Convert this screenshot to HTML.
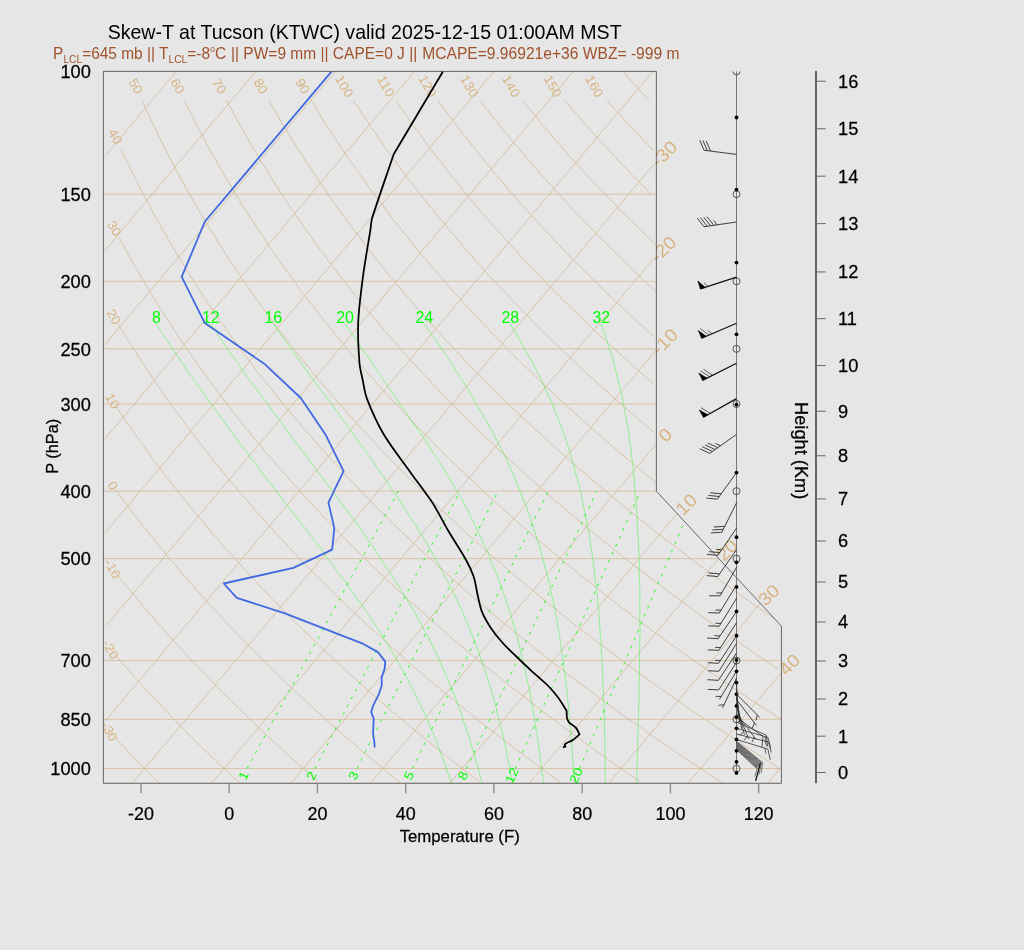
<!DOCTYPE html>
<html><head><meta charset="utf-8"><title>Skew-T</title>
<style>
html,body{margin:0;padding:0;background:#e6e6e6;}
svg{display:block;will-change:transform;font-family:"Liberation Sans",sans-serif;}
</style></head><body>
<svg width="1024" height="950" viewBox="0 0 1024 950">
<defs><clipPath id="fr"><path d="M103.40 783.30 L781.40 783.30 L781.40 626.12 L656.39 491.16 L656.39 71.40 L103.40 71.40 L103.40 783.30 Z"/></clipPath><clipPath id="topclip"><rect x="0" y="71.4" width="1024" height="900"/></clipPath></defs>
<rect width="1024" height="950" fill="#e6e6e6"/>
<g clip-path="url(#fr)">
<path d="M103.40 783.30 L781.40 783.30" fill="none" stroke="#d2b48c" stroke-width="0.7" />
<path d="M103.40 768.53 L781.40 768.53" fill="none" stroke="#d2b48c" stroke-width="0.7" />
<path d="M103.40 719.33 L781.40 719.33" fill="none" stroke="#d2b48c" stroke-width="0.7" />
<path d="M103.40 660.54 L781.40 660.54" fill="none" stroke="#d2b48c" stroke-width="0.7" />
<path d="M103.40 558.68 L718.60 558.68" fill="none" stroke="#d2b48c" stroke-width="0.7" />
<path d="M103.40 491.12 L656.39 491.12" fill="none" stroke="#d2b48c" stroke-width="0.7" />
<path d="M103.40 404.02 L656.39 404.02" fill="none" stroke="#d2b48c" stroke-width="0.7" />
<path d="M103.40 348.83 L656.39 348.83" fill="none" stroke="#d2b48c" stroke-width="0.7" />
<path d="M103.40 281.27 L656.39 281.27" fill="none" stroke="#d2b48c" stroke-width="0.7" />
<path d="M103.40 194.17 L656.39 194.17" fill="none" stroke="#d2b48c" stroke-width="0.7" />
<path d="M103.40 71.42 L656.39 71.42" fill="none" stroke="#d2b48c" stroke-width="0.7" />
<path d="M105.47 155.47 L176.33 71.42" fill="none" stroke="#d2b48c" stroke-width="0.7" />
<path d="M104.31 251.05 L255.75 71.42" fill="none" stroke="#d2b48c" stroke-width="0.7" />
<path d="M104.38 345.17 L335.17 71.42" fill="none" stroke="#d2b48c" stroke-width="0.7" />
<path d="M104.50 439.23 L414.59 71.42" fill="none" stroke="#d2b48c" stroke-width="0.7" />
<path d="M105.06 532.77 L494.01 71.42" fill="none" stroke="#d2b48c" stroke-width="0.7" />
<path d="M105.69 626.23 L573.42 71.42" fill="none" stroke="#d2b48c" stroke-width="0.7" />
<path d="M105.13 721.10 L652.84 71.42" fill="none" stroke="#d2b48c" stroke-width="0.7" />
<path d="M132.11 783.30 L655.67 162.27" fill="none" stroke="#d2b48c" stroke-width="0.7" />
<path d="M211.53 783.30 L654.66 257.66" fill="none" stroke="#d2b48c" stroke-width="0.7" />
<path d="M290.95 783.30 L656.21 350.03" fill="none" stroke="#d2b48c" stroke-width="0.7" />
<path d="M370.37 783.30 L656.67 443.69" fill="none" stroke="#d2b48c" stroke-width="0.7" />
<path d="M449.79 783.30 L677.65 513.02" fill="none" stroke="#d2b48c" stroke-width="0.7" />
<path d="M529.21 783.30 L718.57 558.68" fill="none" stroke="#d2b48c" stroke-width="0.7" />
<path d="M608.63 783.30 L760.11 603.61" fill="none" stroke="#d2b48c" stroke-width="0.7" />
<path d="M688.04 783.30 L780.82 673.25" fill="none" stroke="#d2b48c" stroke-width="0.7" />
<path d="M767.46 783.30 L781.71 766.40" fill="none" stroke="#d2b48c" stroke-width="0.7" />
<path d="M111.01 733.25 L114.14 736.63 L117.25 739.98 L120.34 743.29 L123.42 746.56 L126.49 749.80 L129.54 753.00 L132.57 756.17 L135.59 759.31 L138.60 762.41 L141.59 765.49 L144.57 768.53 L147.53 771.54 L150.48 774.52 L153.42 777.48 L156.34 780.40 L159.25 783.30" fill="none" stroke="#d2b48c" stroke-width="0.7" />
<path d="M112.46 651.77 L116.26 656.19 L120.05 660.54 L123.81 664.84 L127.54 669.07 L131.26 673.25 L134.95 677.37 L138.62 681.43 L142.26 685.44 L145.89 689.40 L149.49 693.31 L153.08 697.16 L156.64 700.97 L160.18 704.73 L163.71 708.45 L167.21 712.12 L170.69 715.74 L174.16 719.33 L177.60 722.87 L181.03 726.37 L184.44 729.83 L187.83 733.25 L191.20 736.63 L194.55 739.98 L197.89 743.29 L201.21 746.56 L204.51 749.80 L207.80 753.00 L211.07 756.17 L214.32 759.31 L217.56 762.41 L220.78 765.49 L223.99 768.53 L227.18 771.54 L230.35 774.52 L233.51 777.48 L236.65 780.40 L239.78 783.30" fill="none" stroke="#d2b48c" stroke-width="0.7" />
<path d="M114.75 571.71 L119.35 577.46 L123.91 583.10 L128.44 588.63 L132.93 594.07 L137.40 599.41 L141.82 604.65 L146.22 609.81 L150.58 614.88 L154.91 619.87 L159.22 624.78 L163.49 629.61 L167.73 634.36 L171.94 639.04 L176.12 643.65 L180.28 648.19 L184.40 652.66 L188.50 657.06 L192.58 661.41 L196.62 665.69 L200.64 669.91 L204.64 674.08 L208.61 678.19 L212.55 682.24 L216.47 686.24 L220.37 690.19 L224.24 694.08 L228.09 697.93 L231.91 701.73 L235.72 705.48 L239.50 709.19 L243.26 712.85 L246.99 716.46 L250.71 720.04 L254.40 723.57 L258.08 727.06 L261.73 730.51 L265.37 733.93 L268.98 737.30 L272.58 740.64 L276.15 743.94 L279.71 747.21 L283.24 750.44 L286.76 753.64 L290.26 756.80 L293.75 759.93 L297.21 763.03 L300.66 766.10 L304.09 769.13 L307.50 772.14 L310.90 775.12 L314.28 778.07 L317.64 780.98" fill="none" stroke="#d2b48c" stroke-width="0.7" />
<path d="M115.47 489.60 L121.01 497.12 L126.50 504.45 L131.93 511.60 L137.32 518.60 L142.65 525.43 L147.94 532.11 L153.18 538.65 L158.37 545.05 L163.52 551.32 L168.62 557.46 L173.68 563.48 L178.70 569.38 L183.67 575.17 L188.61 580.85 L193.50 586.43 L198.36 591.90 L203.17 597.28 L207.95 602.57 L212.69 607.76 L217.40 612.86 L222.07 617.89 L226.71 622.82 L231.31 627.68 L235.87 632.47 L240.41 637.18 L244.91 641.81 L249.38 646.38 L253.82 650.88 L258.23 655.31 L262.61 659.68 L266.96 663.99 L271.28 668.23 L275.57 672.42 L279.83 676.55 L284.06 680.62 L288.27 684.64 L292.45 688.61 L296.61 692.53 L300.74 696.40 L304.84 700.21 L308.92 703.98 L312.97 707.71 L317.00 711.39 L321.00 715.02 L324.99 718.61 L328.94 722.16 L332.88 725.67 L336.79 729.14 L340.68 732.57 L344.55 735.96 L348.40 739.31 L352.22 742.63 L356.03 745.91 L359.81 749.15 L363.57 752.36 L367.32 755.54 L371.04 758.68 L374.74 761.79 L378.43 764.87 L382.09 767.92 L385.74 770.94 L389.37 773.93 L392.98 776.89 L396.57 779.82 L400.14 782.72" fill="none" stroke="#d2b48c" stroke-width="0.7" />
<path d="M115.79 406.03 L122.42 415.90 L128.98 425.45 L135.46 434.71 L141.87 443.69 L148.21 452.42 L154.47 460.90 L160.68 469.15 L166.81 477.18 L172.88 485.00 L178.89 492.63 L184.84 500.07 L190.73 507.33 L196.56 514.42 L202.34 521.35 L208.05 528.12 L213.72 534.75 L219.33 541.23 L224.89 547.58 L230.40 553.79 L235.86 559.89 L241.27 565.86 L246.63 571.71 L251.95 577.46 L257.22 583.10 L262.45 588.63 L267.64 594.07 L272.78 599.41 L277.88 604.65 L282.94 609.81 L287.96 614.88 L292.94 619.87 L297.88 624.78 L302.79 629.61 L307.66 634.36 L312.49 639.04 L317.28 643.65 L322.05 648.19 L326.77 652.66 L331.47 657.06 L336.13 661.41 L340.75 665.69 L345.35 669.91 L349.92 674.08 L354.45 678.19 L358.95 682.24 L363.43 686.24 L367.87 690.19 L372.29 694.08 L376.68 697.93 L381.04 701.73 L385.37 705.48 L389.67 709.19 L393.95 712.85 L398.21 716.46 L402.43 720.04 L406.64 723.57 L410.81 727.06 L414.97 730.51 L419.10 733.93 L423.20 737.30 L427.28 740.64 L431.34 743.94 L435.38 747.21 L439.39 750.44 L443.38 753.64 L447.35 756.80 L451.30 759.93 L455.23 763.03 L459.13 766.10 L463.02 769.13 L466.88 772.14 L470.73 775.12 L474.55 778.07 L478.36 780.98" fill="none" stroke="#d2b48c" stroke-width="0.7" />
<path d="M117.82 323.58 L125.68 336.47 L133.44 348.83 L141.10 360.70 L148.65 372.13 L156.11 383.14 L163.47 393.76 L170.74 404.02 L177.92 413.95 L185.00 423.56 L192.01 432.88 L198.93 441.92 L205.76 450.69 L212.52 459.22 L219.20 467.52 L225.81 475.59 L232.34 483.45 L238.81 491.12 L245.20 498.60 L251.53 505.89 L257.79 513.02 L263.98 519.98 L270.12 526.78 L276.19 533.43 L282.21 539.94 L288.16 546.32 L294.06 552.56 L299.91 558.68 L305.70 564.67 L311.44 570.55 L317.12 576.32 L322.76 581.98 L328.35 587.53 L333.89 592.99 L339.38 598.35 L344.83 603.61 L350.23 608.79 L355.58 613.88 L360.90 618.88 L366.17 623.80 L371.40 628.65 L376.59 633.41 L381.74 638.11 L386.85 642.73 L391.92 647.28 L396.95 651.77 L401.95 656.19 L406.91 660.54 L411.84 664.84 L416.73 669.07 L421.59 673.25 L426.41 677.37 L431.20 681.43 L435.96 685.44 L440.68 689.40 L445.38 693.31 L450.04 697.16 L454.67 700.97 L459.28 704.73 L463.85 708.45 L468.40 712.12 L472.91 715.74 L477.40 719.33 L481.86 722.87 L486.30 726.37 L490.71 729.83 L495.09 733.25 L499.44 736.63 L503.77 739.98 L508.08 743.29 L512.36 746.56 L516.62 749.80 L520.85 753.00 L525.06 756.17 L529.24 759.31 L533.40 762.41 L537.54 765.49 L541.66 768.53 L545.76 771.54 L549.83 774.52 L553.88 777.48 L557.91 780.40 L561.92 783.30" fill="none" stroke="#d2b48c" stroke-width="0.7" />
<path d="M118.98 237.36 L128.25 254.37 L137.38 270.48 L146.38 285.78 L155.23 300.33 L163.96 314.22 L172.55 327.50 L181.01 340.23 L189.36 352.44 L197.58 364.17 L205.69 375.47 L213.68 386.36 L221.57 396.88 L229.35 407.04 L237.02 416.87 L244.60 426.39 L252.08 435.62 L259.47 444.58 L266.76 453.28 L273.97 461.73 L281.09 469.96 L288.13 477.97 L295.09 485.77 L301.97 493.38 L308.78 500.80 L315.51 508.05 L322.16 515.12 L328.75 522.03 L335.27 528.79 L341.72 535.40 L348.11 541.87 L354.43 548.20 L360.70 554.41 L366.90 560.49 L373.04 566.45 L379.13 572.29 L385.16 578.03 L391.13 583.65 L397.06 589.18 L402.93 594.61 L408.74 599.94 L414.51 605.17 L420.23 610.32 L425.90 615.39 L431.53 620.36 L437.11 625.26 L442.64 630.08 L448.13 634.83 L453.58 639.50 L458.99 644.10 L464.35 648.64 L469.67 653.10 L474.96 657.50 L480.20 661.84 L485.41 666.12 L490.57 670.33 L495.71 674.49 L500.80 678.59 L505.86 682.64 L510.89 686.64 L515.88 690.58 L520.83 694.47 L525.76 698.31 L530.65 702.10 L535.51 705.85 L540.33 709.55 L545.13 713.21 L549.90 716.82 L554.63 720.39 L559.34 723.92 L564.02 727.41 L568.67 730.86 L573.29 734.27 L577.88 737.64 L582.45 740.97 L586.98 744.27 L591.50 747.53 L595.98 750.76 L600.44 753.95 L604.88 757.11 L609.29 760.24 L613.68 763.34 L618.04 766.40 L622.38 769.44 L626.69 772.44 L630.98 775.41 L635.25 778.36 L639.50 781.28" fill="none" stroke="#d2b48c" stroke-width="0.7" />
<path d="M120.74 148.51 L131.56 171.11 L142.22 192.15 L152.69 211.81 L162.99 230.28 L173.11 247.68 L183.06 264.14 L192.84 279.75 L202.46 294.59 L211.92 308.74 L221.23 322.26 L230.38 335.20 L239.40 347.61 L248.27 359.53 L257.01 371.00 L265.62 382.05 L274.11 392.71 L282.48 403.01 L290.72 412.97 L298.86 422.61 L306.89 431.96 L314.81 441.03 L322.63 449.83 L330.35 458.38 L337.97 466.70 L345.50 474.79 L352.94 482.68 L360.30 490.36 L367.56 497.86 L374.75 505.17 L381.86 512.31 L388.88 519.29 L395.83 526.11 L402.71 532.77 L409.52 539.30 L416.26 545.69 L422.92 551.94 L429.53 558.07 L436.06 564.08 L442.54 569.97 L448.95 575.75 L455.30 581.42 L461.60 586.98 L467.83 592.45 L474.01 597.81 L480.14 603.09 L486.21 608.27 L492.23 613.37 L498.20 618.38 L504.12 623.31 L509.99 628.17 L515.81 632.94 L521.59 637.64 L527.32 642.27 L533.00 646.83 L538.64 651.32 L544.24 655.75 L549.79 660.11 L555.31 664.41 L560.78 668.65 L566.21 672.83 L571.60 676.96 L576.96 681.03 L582.28 685.04 L587.55 689.01 L592.80 692.92 L598.00 696.78 L603.18 700.59 L608.31 704.36 L613.42 708.08 L618.49 711.75 L623.52 715.38 L628.53 718.97 L633.50 722.51 L638.44 726.02 L643.35 729.48 L648.23 732.91 L653.08 736.29 L657.90 739.64 L662.70 742.96 L667.46 746.23 L672.19 749.47 L676.90 752.68 L681.58 755.85 L686.24 759.00 L690.86 762.10 L695.47 765.18 L700.04 768.23 L704.59 771.24 L709.12 774.23 L713.62 777.18 L718.09 780.11 L722.55 783.01" fill="none" stroke="#d2b48c" stroke-width="0.7" />
<path d="M141.97 100.27 L154.16 126.61 L166.14 150.85 L177.90 173.28 L189.43 194.17 L200.75 213.71 L211.85 232.06 L222.75 249.37 L233.44 265.74 L243.93 281.27 L254.24 296.04 L264.36 310.12 L274.31 323.58 L284.09 336.47 L293.71 348.83 L303.18 360.70 L312.49 372.13 L321.66 383.14 L330.69 393.76 L339.59 404.02 L348.36 413.95 L357.00 423.56 L365.52 432.88 L373.93 441.92 L382.22 450.69 L390.41 459.22 L398.49 467.52 L406.47 475.59 L414.35 483.45 L422.14 491.12 L429.83 498.60 L437.43 505.89 L444.95 513.02 L452.38 519.98 L459.73 526.78 L467.00 533.43 L474.19 539.94 L481.31 546.32 L488.35 552.56 L495.32 558.68 L502.22 564.67 L509.05 570.55 L515.82 576.32 L522.52 581.98 L529.16 587.53 L535.74 592.99 L542.25 598.35 L548.71 603.61 L555.11 608.79 L561.45 613.88 L567.74 618.88 L573.98 623.80 L580.16 628.65 L586.29 633.41 L592.38 638.11 L598.41 642.73 L604.39 647.28 L610.33 651.77 L616.22 656.19 L622.06 660.54 L627.86 664.84 L633.62 669.07 L639.34 673.25 L645.01 677.37 L650.64 681.43 L656.23 685.44 L661.78 689.40 L667.29 693.31 L672.76 697.16 L678.20 700.97 L683.60 704.73 L688.96 708.45 L694.29 712.12 L699.58 715.74 L704.84 719.33 L710.06 722.87 L715.25 726.37 L720.41 729.83 L725.53 733.25 L730.63 736.63 L735.69 739.98 L740.72 743.29 L745.72 746.56 L750.69 749.80 L755.63 753.00 L760.55 756.17 L765.43 759.31 L770.29 762.41 L775.11 765.49 L779.92 768.53" fill="none" stroke="#d2b48c" stroke-width="0.7" />
<path d="M184.22 100.27 L197.47 126.61 L210.45 150.85 L223.16 173.28 L235.60 194.17 L247.77 213.71 L259.70 232.06 L271.38 249.37 L282.83 265.74 L294.05 281.27 L305.06 296.04 L315.87 310.12 L326.48 323.58 L336.90 336.47 L347.14 348.83 L357.20 360.70 L367.10 372.13 L376.84 383.14 L386.43 393.76 L395.87 404.02 L405.17 413.95 L414.33 423.56 L423.36 432.88 L432.26 441.92 L441.04 450.69 L449.71 459.22 L458.25 467.52 L466.69 475.59 L475.02 483.45 L483.25 491.12 L491.37 498.60 L499.40 505.89 L507.34 513.02 L515.18 519.98 L522.93 526.78 L530.60 533.43 L538.18 539.94 L545.69 546.32 L553.11 552.56 L560.46 558.68 L567.73 564.67 L574.92 570.55 L582.05 576.32 L589.11 581.98 L596.10 587.53 L603.02 592.99 L609.88 598.35 L616.67 603.61 L623.41 608.79 L630.08 613.88 L636.69 618.88 L643.25 623.80 L649.75 628.65 L656.20 633.41 L662.59 638.11 L668.93 642.73 L675.22 647.28 L681.45 651.77 L687.64 656.19 L693.78 660.54 L699.87 664.84 L705.92 669.07 L711.92 673.25 L717.87 677.37 L723.78 681.43 L729.65 685.44 L735.48 689.40 L741.26 693.31 L747.01 697.16 L752.71 700.97 L758.37 704.73 L764.00 708.45 L769.59 712.12 L775.14 715.74 L780.65 719.33" fill="none" stroke="#d2b48c" stroke-width="0.7" />
<path d="M226.46 100.27 L240.78 126.61 L254.76 150.85 L268.42 173.28 L281.76 194.17 L294.80 213.71 L307.54 232.06 L320.01 249.37 L332.22 265.74 L344.18 281.27 L355.89 296.04 L367.38 310.12 L378.64 323.58 L389.70 336.47 L400.56 348.83 L411.23 360.70 L421.72 372.13 L432.03 383.14 L442.17 393.76 L452.16 404.02 L461.98 413.95 L471.66 423.56 L481.20 432.88 L490.60 441.92 L499.86 450.69 L509.00 459.22 L518.02 467.52 L526.91 475.59 L535.69 483.45 L544.36 491.12 L552.92 498.60 L561.37 505.89 L569.72 513.02 L577.98 519.98 L586.14 526.78 L594.20 533.43 L602.18 539.94 L610.07 546.32 L617.87 552.56 L625.59 558.68 L633.23 564.67 L640.80 570.55 L648.28 576.32 L655.69 581.98 L663.03 587.53 L670.30 592.99 L677.50 598.35 L684.63 603.61 L691.70 608.79 L698.70 613.88 L705.64 618.88 L712.52 623.80 L719.34 628.65 L726.10 633.41 L732.80 638.11 L739.45 642.73 L746.04 647.28 L752.58 651.77 L759.06 656.19 L765.50 660.54 L771.88 664.84 L778.21 669.07" fill="none" stroke="#d2b48c" stroke-width="0.7" />
<path d="M268.70 100.27 L284.09 126.61 L299.07 150.85 L313.68 173.28 L327.92 194.17 L341.82 213.71 L355.39 232.06 L368.65 249.37 L381.61 265.74 L394.30 281.27 L406.71 296.04 L418.88 310.12 L430.81 323.58 L442.51 336.47 L453.99 348.83 L465.26 360.70 L476.33 372.13 L487.21 383.14 L497.91 393.76 L508.44 404.02 L518.80 413.95 L528.99 423.56 L539.04 432.88 L548.93 441.92 L558.68 450.69 L568.30 459.22 L577.78 467.52 L587.13 475.59 L596.36 483.45 L605.47 491.12 L614.46 498.60 L623.34 505.89 L632.11 513.02 L640.78 519.98 L649.34 526.78 L657.80 533.43 L666.17 539.94 L674.45 546.32 L682.63 552.56 L690.73 558.68 L698.74 564.67 L706.67 570.55 L714.51 576.32 L722.28 581.98 L729.97 587.53 L737.58 592.99 L745.13 598.35 L752.59 603.61 L759.99 608.79 L767.33 613.88 L774.59 618.88" fill="none" stroke="#d2b48c" stroke-width="0.7" />
<path d="M310.95 100.27 L327.39 126.61 L343.38 150.85 L358.94 173.28 L374.08 194.17 L388.84 213.71 L403.23 232.06 L417.28 249.37 L431.00 265.74 L444.42 281.27 L457.54 296.04 L470.39 310.12 L482.97 323.58 L495.31 336.47 L507.41 348.83 L519.28 360.70 L530.94 372.13 L542.40 383.14 L553.65 393.76 L564.72 404.02 L575.61 413.95 L586.33 423.56 L596.88 432.88 L607.27 441.92 L617.50 450.69 L627.59 459.22 L637.54 467.52 L647.35 475.59 L657.03 483.45" fill="none" stroke="#d2b48c" stroke-width="0.7" />
<path d="M353.19 100.27 L370.70 126.61 L387.69 150.85 L404.20 173.28 L420.24 194.17 L435.86 213.71 L451.08 232.06 L465.91 249.37 L480.39 265.74 L494.54 281.27 L508.36 296.04 L521.89 310.12 L535.14 323.58 L548.11 336.47 L560.83 348.83 L573.31 360.70 L585.55 372.13 L597.58 383.14 L609.39 393.76 L621.01 404.02 L632.42 413.95 L643.66 423.56 L654.72 432.88" fill="none" stroke="#d2b48c" stroke-width="0.7" />
<path d="M395.43 100.27 L414.01 126.61 L432.00 150.85 L449.46 173.28 L466.41 194.17 L482.88 213.71 L498.92 232.06 L514.55 249.37 L529.78 265.74 L544.66 281.27 L559.19 296.04 L573.40 310.12 L587.30 323.58 L600.92 336.47 L614.26 348.83 L627.34 360.70 L640.17 372.13 L652.76 383.14" fill="none" stroke="#d2b48c" stroke-width="0.7" />
<path d="M437.68 100.27 L457.32 126.61 L476.32 150.85 L494.72 173.28 L512.57 194.17 L529.91 213.71 L546.77 232.06 L563.18 249.37 L579.17 265.74 L594.78 281.27 L610.01 296.04 L624.90 310.12 L639.47 323.58 L653.72 336.47" fill="none" stroke="#d2b48c" stroke-width="0.7" />
<path d="M479.92 100.27 L500.63 126.61 L520.63 150.85 L539.98 173.28 L558.73 194.17 L576.93 213.71 L594.61 232.06 L611.81 249.37 L628.57 265.74 L644.90 281.27 L660.84 296.04" fill="none" stroke="#d2b48c" stroke-width="0.7" />
<path d="M522.16 100.27 L543.93 126.61 L564.94 150.85 L585.24 173.28 L604.89 194.17 L623.95 213.71 L642.45 232.06 L660.44 249.37" fill="none" stroke="#d2b48c" stroke-width="0.7" />
<path d="M564.41 100.27 L587.24 126.61 L609.25 150.85 L630.50 173.28 L651.05 194.17" fill="none" stroke="#d2b48c" stroke-width="0.7" />
<path d="M606.65 100.27 L630.55 126.61 L653.56 150.85" fill="none" stroke="#d2b48c" stroke-width="0.7" />
<path d="M622.88 71.42 L648.90 100.27" fill="none" stroke="#d2b48c" stroke-width="0.7" />
<path d="M600.98 323.58 L605.41 336.47 L609.36 348.83 L613.25 360.70 L616.13 372.13 L618.89 383.14 L621.51 393.76 L623.51 404.02 L625.29 413.95 L626.87 423.56 L628.71 432.88 L629.85 441.92 L631.21 450.69 L631.85 459.22 L633.16 467.52 L633.72 475.59 L634.47 483.45 L634.92 491.12 L635.59 498.60 L636.42 505.89 L636.93 513.02 L637.11 519.98 L637.43 526.78 L637.87 533.43 L638.43 539.94 L638.64 546.32 L638.96 552.56 L638.92 558.68 L639.45 564.67 L639.15 570.55 L639.41 576.32 L639.75 581.98 L639.72 587.53 L639.78 592.99 L639.92 598.35 L639.66 603.61 L639.95 608.79 L639.85 613.88 L639.82 618.88 L639.86 623.80 L639.96 628.65 L640.13 633.41 L639.90 638.11 L639.72 642.73 L639.61 647.28 L639.55 651.77 L639.55 656.19 L639.60 660.54 L639.70 664.84 L639.39 669.07 L639.59 673.25 L639.37 677.37 L639.21 681.43 L639.08 685.44 L639.00 689.40 L638.97 693.31 L638.97 697.16 L639.02 700.97 L638.64 704.73 L638.77 708.45 L638.47 712.12 L638.67 715.74 L638.44 719.33 L638.25 722.87 L638.09 726.37 L637.96 729.83 L637.87 733.25 L637.81 736.63 L637.78 739.98 L637.78 743.29 L637.82 746.56 L637.41 749.80 L637.51 753.00 L637.16 756.17 L637.31 759.31 L637.02 762.41 L637.22 765.49 L636.98 768.53 L636.76 771.54 L636.58 774.52 L636.88 777.48 L636.74 780.40 L636.62 783.30" fill="none" stroke="#00ff00" stroke-width="0.37" />
<path d="M509.97 323.58 L517.80 336.47 L524.67 348.83 L531.48 360.70 L537.27 372.13 L542.95 383.14 L547.55 393.76 L552.45 404.02 L556.18 413.95 L560.18 423.56 L563.49 432.88 L566.58 441.92 L569.41 450.69 L572.00 459.22 L574.31 467.52 L576.34 475.59 L578.56 483.45 L580.47 491.12 L582.08 498.60 L583.37 505.89 L584.81 513.02 L586.39 519.98 L587.64 526.78 L589.01 533.43 L590.03 539.94 L590.71 546.32 L591.96 552.56 L592.85 558.68 L593.38 564.67 L594.48 570.55 L594.73 576.32 L595.55 581.98 L596.45 587.53 L596.97 592.99 L597.57 598.35 L597.78 603.61 L598.54 608.79 L598.90 613.88 L599.34 618.88 L599.38 623.80 L599.95 628.65 L600.11 633.41 L600.81 638.11 L601.10 642.73 L601.45 647.28 L601.39 651.77 L601.85 656.19 L601.90 660.54 L602.01 664.84 L602.63 669.07 L602.83 673.25 L602.61 677.37 L602.91 681.43 L603.25 685.44 L603.17 689.40 L603.60 693.31 L603.61 697.16 L603.65 700.97 L603.74 704.73 L603.87 708.45 L604.03 712.12 L604.23 715.74 L604.47 719.33 L604.28 722.87 L604.58 726.37 L604.46 729.83 L604.83 733.25 L604.77 736.63 L604.74 739.98 L604.75 743.29 L604.78 746.56 L604.84 749.80 L604.93 753.00 L605.05 756.17 L605.20 759.31 L604.91 762.41 L605.11 765.49 L605.33 768.53 L605.12 771.54 L605.40 774.52 L605.24 777.48 L605.10 780.40 L605.45 783.30" fill="none" stroke="#00ff00" stroke-width="0.37" />
<path d="M424.02 323.58 L433.04 336.47 L441.61 348.83 L449.67 360.70 L456.74 372.13 L464.17 383.14 L470.56 393.76 L476.33 404.02 L482.20 413.95 L487.89 423.56 L492.89 432.88 L497.67 441.92 L502.21 450.69 L506.50 459.22 L510.06 467.52 L513.81 475.59 L516.81 483.45 L519.98 491.12 L522.98 498.60 L526.14 505.89 L528.51 513.02 L531.02 519.98 L533.19 526.78 L535.49 533.43 L537.45 539.94 L539.52 546.32 L541.24 552.56 L543.06 558.68 L544.52 564.67 L546.08 570.55 L547.73 576.32 L549.01 581.98 L549.91 587.53 L551.36 592.99 L552.43 598.35 L553.58 603.61 L554.80 608.79 L555.63 613.88 L556.53 618.88 L557.49 623.80 L558.06 628.65 L559.16 633.41 L559.86 638.11 L560.62 642.73 L560.97 647.28 L561.84 651.77 L562.30 656.19 L563.28 660.54 L563.85 664.84 L564.00 669.07 L564.67 673.25 L565.39 677.37 L565.68 681.43 L566.02 685.44 L566.88 689.40 L567.31 693.31 L567.31 697.16 L567.82 700.97 L568.38 704.73 L568.50 708.45 L569.13 712.12 L569.33 715.74 L569.57 719.33 L569.84 722.87 L570.15 726.37 L570.49 729.83 L570.86 733.25 L571.27 736.63 L571.24 739.98 L571.71 743.29 L571.74 746.56 L572.27 749.80 L572.36 753.00 L572.48 756.17 L572.62 759.31 L572.80 762.41 L573.00 765.49 L573.23 768.53 L573.48 771.54 L573.76 774.52 L574.06 777.48 L574.38 780.40 L574.27 783.30" fill="none" stroke="#00ff00" stroke-width="0.37" />
<path d="M344.77 323.58 L353.80 336.47 L361.93 348.83 L370.50 360.70 L378.09 372.13 L385.60 383.14 L393.00 393.76 L399.81 404.02 L407.03 413.95 L413.60 423.56 L420.43 432.88 L426.56 441.92 L431.99 450.69 L437.64 459.22 L443.02 467.52 L447.66 475.59 L452.49 483.45 L457.02 491.12 L461.33 498.60 L465.33 505.89 L469.01 513.02 L472.37 519.98 L475.86 526.78 L479.02 533.43 L481.83 539.94 L484.76 546.32 L487.80 552.56 L490.01 558.68 L492.87 564.67 L494.89 570.55 L497.48 576.32 L499.22 581.98 L501.52 587.53 L503.43 592.99 L505.43 598.35 L507.04 603.61 L508.73 608.79 L510.49 613.88 L511.85 618.88 L513.29 623.80 L514.79 628.65 L515.89 633.41 L517.51 638.11 L518.74 642.73 L519.55 647.28 L520.89 651.77 L521.82 656.19 L522.80 660.54 L523.83 664.84 L524.91 669.07 L525.58 673.25 L526.76 677.37 L527.52 681.43 L528.33 685.44 L529.18 689.40 L530.08 693.31 L530.55 697.16 L531.53 700.97 L532.08 704.73 L532.67 708.45 L533.30 712.12 L533.96 715.74 L534.67 719.33 L534.94 722.87 L535.71 726.37 L536.05 729.83 L536.89 733.25 L537.30 736.63 L537.73 739.98 L538.20 743.29 L538.70 746.56 L539.23 749.80 L539.78 753.00 L539.90 756.17 L540.52 759.31 L540.69 762.41 L541.36 765.49 L541.58 768.53 L541.83 771.54 L542.58 774.52 L542.88 777.48 L543.21 780.40 L543.56 783.30" fill="none" stroke="#00ff00" stroke-width="0.37" />
<path d="M273.03 323.58 L282.22 336.47 L290.94 348.83 L299.62 360.70 L307.77 372.13 L315.81 383.14 L323.73 393.76 L331.49 404.02 L338.84 413.95 L345.54 423.56 L352.51 432.88 L358.79 441.92 L365.32 450.69 L371.13 459.22 L377.16 467.52 L382.45 475.59 L387.93 483.45 L393.13 491.12 L398.29 498.60 L403.13 505.89 L407.66 513.02 L412.33 519.98 L416.67 526.78 L420.68 533.43 L424.81 539.94 L428.59 546.32 L432.03 552.56 L435.57 558.68 L438.89 564.67 L441.84 570.55 L444.89 576.32 L448.03 581.98 L450.80 587.53 L453.64 592.99 L456.10 598.35 L458.65 603.61 L461.26 608.79 L463.49 613.88 L465.32 618.88 L467.68 623.80 L469.65 628.65 L471.68 633.41 L473.31 638.11 L474.99 642.73 L476.74 647.28 L478.54 651.77 L479.93 656.19 L481.85 660.54 L482.88 664.84 L484.43 669.07 L486.03 673.25 L487.21 677.37 L488.43 681.43 L489.71 685.44 L491.02 689.40 L491.92 693.31 L493.32 697.16 L494.30 700.97 L495.32 704.73 L496.37 708.45 L497.00 712.12 L498.13 715.74 L498.84 719.33 L500.04 722.87 L500.81 726.37 L501.62 729.83 L502.45 733.25 L503.33 736.63 L503.76 739.98 L504.70 743.29 L505.19 746.56 L506.19 749.80 L506.74 753.00 L507.33 756.17 L507.94 759.31 L508.58 762.41 L509.25 765.49 L509.94 768.53 L510.66 771.54 L510.93 774.52 L511.70 777.48 L512.03 780.40 L512.84 783.30" fill="none" stroke="#00ff00" stroke-width="0.37" />
<path d="M210.55 323.58 L219.04 336.47 L227.52 348.83 L235.94 360.70 L243.82 372.13 L252.06 383.14 L259.70 393.76 L267.65 404.02 L274.68 413.95 L282.00 423.56 L288.65 432.88 L295.54 441.92 L302.20 450.69 L308.61 459.22 L314.76 467.52 L320.65 475.59 L326.72 483.45 L332.50 491.12 L338.12 498.60 L343.43 505.89 L348.89 513.02 L354.03 519.98 L358.84 526.78 L363.77 533.43 L368.37 539.94 L372.62 546.32 L376.98 552.56 L380.66 558.68 L384.44 564.67 L388.33 570.55 L392.31 576.32 L395.91 581.98 L399.61 587.53 L402.92 592.99 L406.31 598.35 L409.32 603.61 L412.40 608.79 L415.56 613.88 L418.32 618.88 L421.15 623.80 L423.58 628.65 L426.08 633.41 L428.63 638.11 L430.79 642.73 L433.00 647.28 L435.26 651.77 L437.59 656.19 L439.50 660.54 L441.46 664.84 L443.48 669.07 L445.08 673.25 L447.19 677.37 L448.88 681.43 L450.15 685.44 L451.94 689.40 L453.76 693.31 L455.16 697.16 L456.61 700.97 L458.09 704.73 L459.15 708.45 L460.70 712.12 L461.84 715.74 L463.00 719.33 L464.21 722.87 L465.44 726.37 L466.72 729.83 L467.55 733.25 L468.89 736.63 L469.79 739.98 L470.73 743.29 L471.69 746.56 L472.68 749.80 L473.70 753.00 L474.75 756.17 L475.37 759.31 L476.47 762.41 L477.14 765.49 L478.30 768.53 L479.01 771.54 L479.76 774.52 L480.52 777.48 L481.31 780.40 L482.13 783.30" fill="none" stroke="#00ff00" stroke-width="0.37" />
<path d="M156.20 323.58 L164.42 336.47 L172.62 348.83 L180.75 360.70 L188.34 372.13 L196.27 383.14 L203.61 393.76 L211.24 404.02 L218.39 413.95 L225.36 423.56 L232.11 432.88 L238.65 441.92 L245.41 450.69 L251.92 459.22 L258.18 467.52 L264.16 475.59 L270.32 483.45 L276.19 491.12 L281.81 498.60 L287.59 505.89 L293.05 513.02 L298.65 519.98 L303.92 526.78 L308.86 533.43 L313.92 539.94 L319.10 546.32 L323.93 552.56 L327.61 558.68 L332.33 564.67 L336.68 570.55 L341.12 576.32 L345.19 581.98 L349.35 587.53 L353.13 592.99 L356.99 598.35 L360.92 603.61 L364.47 608.79 L367.63 613.88 L371.32 618.88 L374.61 623.80 L377.51 628.65 L380.94 633.41 L383.49 638.11 L386.58 642.73 L389.25 647.28 L391.99 651.77 L394.78 656.19 L397.15 660.54 L399.58 664.84 L402.06 669.07 L404.13 673.25 L406.70 677.37 L408.86 681.43 L410.60 685.44 L412.85 689.40 L414.67 693.31 L416.54 697.16 L418.45 700.97 L420.40 704.73 L421.92 708.45 L423.94 712.12 L425.54 715.74 L427.17 719.33 L428.38 722.87 L430.08 726.37 L431.35 729.83 L433.12 733.25 L434.45 736.63 L435.82 739.98 L436.76 743.29 L438.18 746.56 L439.64 749.80 L440.66 753.00 L441.72 756.17 L443.26 759.31 L444.36 762.41 L445.49 765.49 L446.19 768.53 L447.37 771.54 L448.58 774.52 L449.35 777.48 L450.60 780.40 L451.42 783.30" fill="none" stroke="#00ff00" stroke-width="0.37" />
<path d="M579.61 768.53 L685.18 519.98" fill="none" stroke="#00ff00" stroke-width="0.85" stroke-dasharray="2.8 5.9" />
<path d="M515.25 768.53 L640.54 491.12" fill="none" stroke="#00ff00" stroke-width="0.85" stroke-dasharray="2.8 5.9" />
<path d="M466.48 768.53 L596.79 491.12" fill="none" stroke="#00ff00" stroke-width="0.85" stroke-dasharray="2.8 5.9" />
<path d="M412.51 768.53 L548.23 491.12" fill="none" stroke="#00ff00" stroke-width="0.85" stroke-dasharray="2.8 5.9" />
<path d="M356.88 768.53 L498.03 491.12" fill="none" stroke="#00ff00" stroke-width="0.85" stroke-dasharray="2.8 5.9" />
<path d="M314.85 768.53 L459.98 491.12" fill="none" stroke="#00ff00" stroke-width="0.85" stroke-dasharray="2.8 5.9" />
<path d="M247.09 768.53 L398.41 491.12" fill="none" stroke="#00ff00" stroke-width="0.85" stroke-dasharray="2.8 5.9" />
</g>
<text transform="translate(109.44 731.54) rotate(-300.0) scale(1.080 1)" font-size="12.8" fill="#d8b482" text-anchor="middle" dominant-baseline="central" >-30</text>
<text transform="translate(110.54 649.53) rotate(-300.0) scale(1.080 1)" font-size="12.8" fill="#d8b482" text-anchor="middle" dominant-baseline="central" >-20</text>
<text transform="translate(112.43 568.80) rotate(-300.0) scale(1.080 1)" font-size="12.8" fill="#d8b482" text-anchor="middle" dominant-baseline="central" >-10</text>
<text transform="translate(112.69 485.77) rotate(-300.0) scale(1.080 1)" font-size="12.8" fill="#d8b482" text-anchor="middle" dominant-baseline="central" >0</text>
<text transform="translate(112.45 400.98) rotate(-300.0) scale(1.080 1)" font-size="12.8" fill="#d8b482" text-anchor="middle" dominant-baseline="central" >10</text>
<text transform="translate(113.85 316.93) rotate(-300.0) scale(1.080 1)" font-size="12.8" fill="#d8b482" text-anchor="middle" dominant-baseline="central" >20</text>
<text transform="translate(114.29 228.48) rotate(-300.0) scale(1.080 1)" font-size="12.8" fill="#d8b482" text-anchor="middle" dominant-baseline="central" >30</text>
<text transform="translate(115.26 136.54) rotate(-300.0) scale(1.080 1)" font-size="12.8" fill="#d8b482" text-anchor="middle" dominant-baseline="central" >40</text>
<text transform="translate(135.80 86.19) rotate(-300.0) scale(1.080 1)" font-size="12.8" fill="#d8b482" text-anchor="middle" dominant-baseline="central" >50</text>
<text transform="translate(177.49 86.19) rotate(-300.0) scale(1.080 1)" font-size="12.8" fill="#d8b482" text-anchor="middle" dominant-baseline="central" >60</text>
<text transform="translate(219.17 86.19) rotate(-300.0) scale(1.080 1)" font-size="12.8" fill="#d8b482" text-anchor="middle" dominant-baseline="central" >70</text>
<text transform="translate(260.86 86.19) rotate(-300.0) scale(1.080 1)" font-size="12.8" fill="#d8b482" text-anchor="middle" dominant-baseline="central" >80</text>
<text transform="translate(302.55 86.19) rotate(-300.0) scale(1.080 1)" font-size="12.8" fill="#d8b482" text-anchor="middle" dominant-baseline="central" >90</text>
<text transform="translate(344.23 86.19) rotate(-300.0) scale(1.080 1)" font-size="12.8" fill="#d8b482" text-anchor="middle" dominant-baseline="central" >100</text>
<text transform="translate(385.92 86.19) rotate(-300.0) scale(1.080 1)" font-size="12.8" fill="#d8b482" text-anchor="middle" dominant-baseline="central" >110</text>
<text transform="translate(427.60 86.19) rotate(-300.0) scale(1.080 1)" font-size="12.8" fill="#d8b482" text-anchor="middle" dominant-baseline="central" >120</text>
<text transform="translate(469.29 86.19) rotate(-300.0) scale(1.080 1)" font-size="12.8" fill="#d8b482" text-anchor="middle" dominant-baseline="central" >130</text>
<text transform="translate(510.97 86.19) rotate(-300.0) scale(1.080 1)" font-size="12.8" fill="#d8b482" text-anchor="middle" dominant-baseline="central" >140</text>
<text transform="translate(552.66 86.19) rotate(-300.0) scale(1.080 1)" font-size="12.8" fill="#d8b482" text-anchor="middle" dominant-baseline="central" >150</text>
<text transform="translate(594.34 86.19) rotate(-300.0) scale(1.080 1)" font-size="12.8" fill="#d8b482" text-anchor="middle" dominant-baseline="central" >160</text>
<text transform="translate(664.27 153.67) rotate(-45.0) scale(1.080 1)" font-size="18" fill="#d8b482" text-anchor="middle" dominant-baseline="central" >-30</text>
<text transform="translate(663.26 249.06) rotate(-45.0) scale(1.080 1)" font-size="18" fill="#d8b482" text-anchor="middle" dominant-baseline="central" >-20</text>
<text transform="translate(664.81 341.43) rotate(-45.0) scale(1.080 1)" font-size="18" fill="#d8b482" text-anchor="middle" dominant-baseline="central" >-10</text>
<text transform="translate(665.27 435.09) rotate(-45.0) scale(1.080 1)" font-size="18" fill="#d8b482" text-anchor="middle" dominant-baseline="central" >0</text>
<text transform="translate(686.25 504.42) rotate(-45.0) scale(1.080 1)" font-size="18" fill="#d8b482" text-anchor="middle" dominant-baseline="central" >10</text>
<text transform="translate(727.17 550.08) rotate(-45.0) scale(1.080 1)" font-size="18" fill="#d8b482" text-anchor="middle" dominant-baseline="central" >20</text>
<text transform="translate(768.71 595.01) rotate(-45.0) scale(1.080 1)" font-size="18" fill="#d8b482" text-anchor="middle" dominant-baseline="central" >30</text>
<text transform="translate(789.42 664.65) rotate(-45.0) scale(1.080 1)" font-size="18" fill="#d8b482" text-anchor="middle" dominant-baseline="central" >40</text>
<text transform="translate(601.28 317.28) scale(0.975 1)" font-size="16.4" fill="#00ff00" text-anchor="middle" dominant-baseline="central" >32</text>
<text transform="translate(510.27 317.28) scale(0.975 1)" font-size="16.4" fill="#00ff00" text-anchor="middle" dominant-baseline="central" >28</text>
<text transform="translate(424.32 317.28) scale(0.975 1)" font-size="16.4" fill="#00ff00" text-anchor="middle" dominant-baseline="central" >24</text>
<text transform="translate(345.07 317.28) scale(0.975 1)" font-size="16.4" fill="#00ff00" text-anchor="middle" dominant-baseline="central" >20</text>
<text transform="translate(273.33 317.28) scale(0.975 1)" font-size="16.4" fill="#00ff00" text-anchor="middle" dominant-baseline="central" >16</text>
<text transform="translate(210.85 317.28) scale(0.975 1)" font-size="16.4" fill="#00ff00" text-anchor="middle" dominant-baseline="central" >12</text>
<text transform="translate(156.50 317.28) scale(0.975 1)" font-size="16.4" fill="#00ff00" text-anchor="middle" dominant-baseline="central" >8</text>
<text transform="translate(576.21 775.53) rotate(-65.0) scale(1.120 1)" font-size="12.6" fill="#00ff00" text-anchor="middle" dominant-baseline="central" >20</text>
<text transform="translate(511.85 775.53) rotate(-65.0) scale(1.120 1)" font-size="12.6" fill="#00ff00" text-anchor="middle" dominant-baseline="central" >12</text>
<text transform="translate(463.08 775.53) rotate(-65.0) scale(1.120 1)" font-size="12.6" fill="#00ff00" text-anchor="middle" dominant-baseline="central" >8</text>
<text transform="translate(409.11 775.53) rotate(-65.0) scale(1.120 1)" font-size="12.6" fill="#00ff00" text-anchor="middle" dominant-baseline="central" >5</text>
<text transform="translate(353.48 775.53) rotate(-65.0) scale(1.120 1)" font-size="12.6" fill="#00ff00" text-anchor="middle" dominant-baseline="central" >3</text>
<text transform="translate(311.45 775.53) rotate(-65.0) scale(1.120 1)" font-size="12.6" fill="#00ff00" text-anchor="middle" dominant-baseline="central" >2</text>
<text transform="translate(243.69 775.53) rotate(-65.0) scale(1.120 1)" font-size="12.6" fill="#00ff00" text-anchor="middle" dominant-baseline="central" >1</text>
<path d="M103.40 783.30 L781.40 783.30 L781.40 626.12 L656.39 491.16 L656.39 71.40 L103.40 71.40 L103.40 783.30 Z" fill="none" stroke="#505050" stroke-width="0.85"/>
<text transform="translate(90.80 768.73) scale(0.985 1)" font-size="18.5" fill="#000" text-anchor="end" dominant-baseline="central" stroke="#000" stroke-width="0.25">1000</text>
<text transform="translate(90.80 719.53) scale(0.985 1)" font-size="18.5" fill="#000" text-anchor="end" dominant-baseline="central" stroke="#000" stroke-width="0.25">850</text>
<text transform="translate(90.80 660.74) scale(0.985 1)" font-size="18.5" fill="#000" text-anchor="end" dominant-baseline="central" stroke="#000" stroke-width="0.25">700</text>
<text transform="translate(90.80 558.88) scale(0.985 1)" font-size="18.5" fill="#000" text-anchor="end" dominant-baseline="central" stroke="#000" stroke-width="0.25">500</text>
<text transform="translate(90.80 491.32) scale(0.985 1)" font-size="18.5" fill="#000" text-anchor="end" dominant-baseline="central" stroke="#000" stroke-width="0.25">400</text>
<text transform="translate(90.80 404.22) scale(0.985 1)" font-size="18.5" fill="#000" text-anchor="end" dominant-baseline="central" stroke="#000" stroke-width="0.25">300</text>
<text transform="translate(90.80 349.03) scale(0.985 1)" font-size="18.5" fill="#000" text-anchor="end" dominant-baseline="central" stroke="#000" stroke-width="0.25">250</text>
<text transform="translate(90.80 281.47) scale(0.985 1)" font-size="18.5" fill="#000" text-anchor="end" dominant-baseline="central" stroke="#000" stroke-width="0.25">200</text>
<text transform="translate(90.80 194.37) scale(0.985 1)" font-size="18.5" fill="#000" text-anchor="end" dominant-baseline="central" stroke="#000" stroke-width="0.25">150</text>
<text transform="translate(90.80 71.62) scale(0.985 1)" font-size="18.5" fill="#000" text-anchor="end" dominant-baseline="central" stroke="#000" stroke-width="0.25">100</text>
<text transform="translate(51.80 446.30) rotate(-90.0) scale(0.980 1)" font-size="16.6" fill="#000" text-anchor="middle" dominant-baseline="central" stroke="#000" stroke-width="0.25">P (hPa)</text>
<path d="M140.94 783.80 V793.30" stroke="#8c8c8c" stroke-width="1.4"/>
<text transform="translate(140.94 813.80) scale(0.970 1)" font-size="18.5" fill="#000" text-anchor="middle" dominant-baseline="central" stroke="#000" stroke-width="0.25">-20</text>
<path d="M229.18 783.80 V793.30" stroke="#8c8c8c" stroke-width="1.4"/>
<text transform="translate(229.18 813.80) scale(0.970 1)" font-size="18.5" fill="#000" text-anchor="middle" dominant-baseline="central" stroke="#000" stroke-width="0.25">0</text>
<path d="M317.42 783.80 V793.30" stroke="#8c8c8c" stroke-width="1.4"/>
<text transform="translate(317.42 813.80) scale(0.970 1)" font-size="18.5" fill="#000" text-anchor="middle" dominant-baseline="central" stroke="#000" stroke-width="0.25">20</text>
<path d="M405.67 783.80 V793.30" stroke="#8c8c8c" stroke-width="1.4"/>
<text transform="translate(405.67 813.80) scale(0.970 1)" font-size="18.5" fill="#000" text-anchor="middle" dominant-baseline="central" stroke="#000" stroke-width="0.25">40</text>
<path d="M493.91 783.80 V793.30" stroke="#8c8c8c" stroke-width="1.4"/>
<text transform="translate(493.91 813.80) scale(0.970 1)" font-size="18.5" fill="#000" text-anchor="middle" dominant-baseline="central" stroke="#000" stroke-width="0.25">60</text>
<path d="M582.15 783.80 V793.30" stroke="#8c8c8c" stroke-width="1.4"/>
<text transform="translate(582.15 813.80) scale(0.970 1)" font-size="18.5" fill="#000" text-anchor="middle" dominant-baseline="central" stroke="#000" stroke-width="0.25">80</text>
<path d="M670.40 783.80 V793.30" stroke="#8c8c8c" stroke-width="1.4"/>
<text transform="translate(670.40 813.80) scale(0.970 1)" font-size="18.5" fill="#000" text-anchor="middle" dominant-baseline="central" stroke="#000" stroke-width="0.25">100</text>
<path d="M758.64 783.80 V793.30" stroke="#8c8c8c" stroke-width="1.4"/>
<text transform="translate(758.64 813.80) scale(0.970 1)" font-size="18.5" fill="#000" text-anchor="middle" dominant-baseline="central" stroke="#000" stroke-width="0.25">120</text>
<text transform="translate(459.70 836.20) scale(1.010 1)" font-size="16.6" fill="#000" text-anchor="middle" dominant-baseline="central" stroke="#000" stroke-width="0.25">Temperature (F)</text>
<path d="M816.00 70.90 V783.30" stroke="#666" stroke-width="2"/>
<path d="M816.00 772.51 H825.70" stroke="#666" stroke-width="1"/>
<text transform="translate(838.00 772.31) scale(0.960 1)" font-size="19" fill="#000" text-anchor="start" dominant-baseline="central" stroke="#000" stroke-width="0.25">0</text>
<path d="M816.00 736.20 H825.70" stroke="#666" stroke-width="1"/>
<text transform="translate(838.00 736.00) scale(0.960 1)" font-size="19" fill="#000" text-anchor="start" dominant-baseline="central" stroke="#000" stroke-width="0.25">1</text>
<path d="M816.00 699.04 H825.70" stroke="#666" stroke-width="1"/>
<text transform="translate(838.00 698.84) scale(0.960 1)" font-size="19" fill="#000" text-anchor="start" dominant-baseline="central" stroke="#000" stroke-width="0.25">2</text>
<path d="M816.00 660.97 H825.70" stroke="#666" stroke-width="1"/>
<text transform="translate(838.00 660.77) scale(0.960 1)" font-size="19" fill="#000" text-anchor="start" dominant-baseline="central" stroke="#000" stroke-width="0.25">3</text>
<path d="M816.00 621.99 H825.70" stroke="#666" stroke-width="1"/>
<text transform="translate(838.00 621.79) scale(0.960 1)" font-size="19" fill="#000" text-anchor="start" dominant-baseline="central" stroke="#000" stroke-width="0.25">4</text>
<path d="M816.00 582.02 H825.70" stroke="#666" stroke-width="1"/>
<text transform="translate(838.00 581.82) scale(0.960 1)" font-size="19" fill="#000" text-anchor="start" dominant-baseline="central" stroke="#000" stroke-width="0.25">5</text>
<path d="M816.00 541.01 H825.70" stroke="#666" stroke-width="1"/>
<text transform="translate(838.00 540.81) scale(0.960 1)" font-size="19" fill="#000" text-anchor="start" dominant-baseline="central" stroke="#000" stroke-width="0.25">6</text>
<path d="M816.00 498.94 H825.70" stroke="#666" stroke-width="1"/>
<text transform="translate(838.00 498.74) scale(0.960 1)" font-size="19" fill="#000" text-anchor="start" dominant-baseline="central" stroke="#000" stroke-width="0.25">7</text>
<path d="M816.00 455.78 H825.70" stroke="#666" stroke-width="1"/>
<text transform="translate(838.00 455.58) scale(0.960 1)" font-size="19" fill="#000" text-anchor="start" dominant-baseline="central" stroke="#000" stroke-width="0.25">8</text>
<path d="M816.00 411.24 H825.70" stroke="#666" stroke-width="1"/>
<text transform="translate(838.00 411.04) scale(0.960 1)" font-size="19" fill="#000" text-anchor="start" dominant-baseline="central" stroke="#000" stroke-width="0.25">9</text>
<path d="M816.00 365.54 H825.70" stroke="#666" stroke-width="1"/>
<text transform="translate(838.00 365.34) scale(0.960 1)" font-size="19" fill="#000" text-anchor="start" dominant-baseline="central" stroke="#000" stroke-width="0.25">10</text>
<path d="M816.00 318.68 H825.70" stroke="#666" stroke-width="1"/>
<text transform="translate(838.00 318.48) scale(0.960 1)" font-size="19" fill="#000" text-anchor="start" dominant-baseline="central" stroke="#000" stroke-width="0.25">11</text>
<path d="M816.00 271.94 H825.70" stroke="#666" stroke-width="1"/>
<text transform="translate(838.00 271.74) scale(0.960 1)" font-size="19" fill="#000" text-anchor="start" dominant-baseline="central" stroke="#000" stroke-width="0.25">12</text>
<path d="M816.00 223.63 H825.70" stroke="#666" stroke-width="1"/>
<text transform="translate(838.00 223.43) scale(0.960 1)" font-size="19" fill="#000" text-anchor="start" dominant-baseline="central" stroke="#000" stroke-width="0.25">13</text>
<path d="M816.00 176.19 H825.70" stroke="#666" stroke-width="1"/>
<text transform="translate(838.00 175.99) scale(0.960 1)" font-size="19" fill="#000" text-anchor="start" dominant-baseline="central" stroke="#000" stroke-width="0.25">14</text>
<path d="M816.00 128.78 H825.70" stroke="#666" stroke-width="1"/>
<text transform="translate(838.00 128.58) scale(0.960 1)" font-size="19" fill="#000" text-anchor="start" dominant-baseline="central" stroke="#000" stroke-width="0.25">15</text>
<path d="M816.00 81.25 H825.70" stroke="#666" stroke-width="1"/>
<text transform="translate(838.00 81.05) scale(0.960 1)" font-size="19" fill="#000" text-anchor="start" dominant-baseline="central" stroke="#000" stroke-width="0.25">16</text>
<text transform="translate(801.10 450.70) rotate(90.0) scale(1.020 1)" font-size="17.9" fill="#000" text-anchor="middle" dominant-baseline="central" stroke="#000" stroke-width="0.25">Height (Km)</text>
<text transform="translate(364.6 38.8) scale(0.955 1)" font-size="20.5" text-anchor="middle" fill="#000">Skew-T at Tucson (KTWC) valid 2025-12-15 01:00AM MST</text>
<text transform="translate(53.1 59.30) scale(0.9660 1)" font-size="16" fill="#a0522d">P<tspan font-size="10.6" dy="3.3">LCL</tspan><tspan dy="-3.3">=645 mb || T</tspan><tspan font-size="10.6" dy="3.3">LCL</tspan><tspan dy="-3.3">=-8</tspan><tspan font-size="9.5" dy="-7.6">o</tspan><tspan dy="7.6">C</tspan></text>
<text x="231.0" y="59.30" font-size="16" fill="#a0522d" textLength="186.2" lengthAdjust="spacingAndGlyphs">|| PW=9 mm || CAPE=0 J ||</text>
<text x="422.2" y="59.30" font-size="16" fill="#a0522d" textLength="257.3" lengthAdjust="spacingAndGlyphs">MCAPE=9.96921e+36 WBZ= -999 m</text>
<path d="M331.40 71.70 L204.90 221.50 L181.70 276.90 L204.80 323.10 L264.20 363.70 L300.80 398.00 L325.30 434.20 L343.60 471.05 L328.40 502.60 L334.30 527.90 L332.20 549.60 L293.30 567.90 L223.80 583.50 L236.80 597.80 L284.20 613.20 L362.10 643.30 L377.90 652.10 L385.30 661.60 L384.60 668.90 L381.70 677.40 L381.70 685.40 L378.90 694.20 L373.05 705.80 L371.20 712.10 L373.70 718.40 L373.05 734.20 L374.30 741.60 L374.70 747.50" fill="none" stroke="#4169e1" stroke-width="1.8" stroke-linejoin="round"/>
<path d="M442.80 71.70 C426.43 99.20 410.07 126.70 393.70 154.20 C386.50 175.53 375.98 205.57 372.10 218.20 C370.93 222.00 371.01 226.07 370.40 230.00 C368.88 239.70 365.03 260.95 363.00 276.40 C360.98 291.78 358.78 308.23 358.20 322.70 C357.66 336.20 358.75 353.65 359.50 363.20 C359.95 368.88 361.53 374.42 362.70 380.00 C363.93 385.90 364.62 392.67 366.90 398.60 C370.37 407.60 376.87 422.78 383.50 434.00 C390.80 446.35 402.52 461.18 410.70 472.70 C417.93 482.88 426.42 493.55 432.60 503.10 C438.20 511.75 442.57 521.12 447.80 530.00 C453.38 539.48 461.78 552.20 466.10 560.00 C469.08 565.38 471.80 570.96 473.70 576.80 C475.67 582.83 476.50 590.30 477.90 596.20 C479.17 601.57 480.04 607.09 482.10 612.20 C484.20 617.40 487.29 622.58 490.50 627.40 C493.87 632.45 498.08 637.73 502.30 642.50 C506.52 647.27 511.24 651.56 515.80 656.00 C520.57 660.63 525.80 665.60 530.90 670.30 C536.23 675.22 543.30 681.00 547.80 685.50 C551.46 689.16 554.80 693.15 557.90 697.30 C561.03 701.50 563.70 706.23 566.60 710.70 C566.70 713.20 566.80 715.70 566.90 718.20 C567.67 719.67 568.07 721.39 569.20 722.60 C570.68 724.18 574.07 725.73 575.80 727.70 C577.50 729.63 578.33 732.17 579.60 734.40 C577.50 736.17 575.60 738.20 573.30 739.70 C570.98 741.22 568.23 742.23 565.70 743.50 C565.37 743.90 565.03 744.30 564.70 744.70 C564.93 745.33 565.17 745.97 565.40 746.60 C564.57 746.83 563.73 747.07 562.90 747.30" fill="none" stroke="#000" stroke-width="1.75" stroke-linejoin="round" stroke-linecap="butt"/>
<path d="M736.50 71.40 V773.00" stroke="#6a6a6a" stroke-width="0.9"/>
<g clip-path="url(#topclip)">
<circle cx="736.50" cy="71.42" r="3.5" fill="none" stroke="#333" stroke-width="0.8"/>
<circle cx="736.50" cy="194.17" r="3.5" fill="none" stroke="#333" stroke-width="0.8"/>
<circle cx="736.50" cy="281.27" r="3.5" fill="none" stroke="#333" stroke-width="0.8"/>
<circle cx="736.50" cy="348.83" r="3.5" fill="none" stroke="#333" stroke-width="0.8"/>
<circle cx="736.50" cy="404.02" r="3.5" fill="none" stroke="#333" stroke-width="0.8"/>
<circle cx="736.50" cy="491.12" r="3.5" fill="none" stroke="#333" stroke-width="0.8"/>
<circle cx="736.50" cy="558.68" r="3.5" fill="none" stroke="#333" stroke-width="0.8"/>
<circle cx="736.50" cy="660.54" r="3.5" fill="none" stroke="#333" stroke-width="0.8"/>
<circle cx="736.50" cy="719.33" r="3.5" fill="none" stroke="#333" stroke-width="0.8"/>
<circle cx="736.50" cy="768.53" r="3.5" fill="none" stroke="#333" stroke-width="0.8"/>
</g>
<circle cx="736.50" cy="117.50" r="1.9" fill="#000"/>
<circle cx="736.50" cy="189.60" r="1.9" fill="#000"/>
<circle cx="736.50" cy="262.60" r="1.9" fill="#000"/>
<circle cx="736.50" cy="334.30" r="1.9" fill="#000"/>
<circle cx="736.50" cy="404.60" r="1.9" fill="#000"/>
<circle cx="736.50" cy="472.60" r="1.9" fill="#000"/>
<circle cx="736.50" cy="537.20" r="1.9" fill="#000"/>
<circle cx="736.50" cy="562.30" r="1.9" fill="#000"/>
<circle cx="736.50" cy="586.90" r="1.9" fill="#000"/>
<circle cx="736.50" cy="611.40" r="1.9" fill="#000"/>
<circle cx="736.50" cy="635.70" r="1.9" fill="#000"/>
<circle cx="736.50" cy="660.00" r="1.9" fill="#000"/>
<circle cx="736.50" cy="671.30" r="1.9" fill="#000"/>
<circle cx="736.50" cy="682.70" r="1.9" fill="#000"/>
<circle cx="736.50" cy="694.20" r="1.9" fill="#000"/>
<circle cx="736.50" cy="705.90" r="1.9" fill="#000"/>
<circle cx="736.50" cy="717.20" r="1.9" fill="#000"/>
<circle cx="736.50" cy="728.30" r="1.9" fill="#000"/>
<circle cx="736.50" cy="739.40" r="1.9" fill="#000"/>
<circle cx="736.50" cy="750.80" r="1.9" fill="#000"/>
<circle cx="736.50" cy="761.85" r="1.9" fill="#000"/>
<circle cx="736.50" cy="772.90" r="1.9" fill="#000"/>
<path d="M736.50 154.40 L703.97 150.23" fill="none" stroke="#222" stroke-width="0.85"/>
<path d="M703.97 150.23 L699.72 140.08 M707.24 150.65 L702.99 140.50 M710.51 151.07 L706.27 140.92" fill="none" stroke="#222" stroke-width="0.85"/>
<path d="M736.50 222.00 L704.04 226.73" fill="none" stroke="#222" stroke-width="0.85"/>
<path d="M704.04 226.73 L697.23 218.10 M707.31 226.26 L700.49 217.63 M710.57 225.78 L703.76 217.15 M713.84 225.31 L707.02 216.67 M717.11 224.83 L713.70 220.51" fill="none" stroke="#222" stroke-width="0.85"/>
<path d="M736.50 277.05 L700.40 288.92" fill="none" stroke="#111" stroke-width="1.25"/>
<path d="M700.40 288.92 L697.81 281.03 L705.15 287.36 Z" fill="#000" stroke="#000" stroke-width="0.6" stroke-linejoin="round"/>
<path d="M708.00 286.42 L703.90 282.75" fill="none" stroke="#222" stroke-width="0.7"/>
<path d="M736.50 323.20 L701.60 338.23" fill="none" stroke="#111" stroke-width="1.25"/>
<path d="M701.60 338.23 L698.32 330.61 L706.19 336.25 Z" fill="#000" stroke="#000" stroke-width="0.6" stroke-linejoin="round"/>
<path d="M708.95 335.07 L700.13 328.49 M711.98 333.76 L707.57 330.47" fill="none" stroke="#222" stroke-width="0.7"/>
<path d="M736.50 363.30 L702.55 380.37" fill="none" stroke="#111" stroke-width="1.25"/>
<path d="M702.55 380.37 L698.82 372.96 L707.02 378.13 Z" fill="#000" stroke="#000" stroke-width="0.6" stroke-linejoin="round"/>
<path d="M709.70 376.78 L700.50 370.74 M712.65 375.30 L703.45 369.26" fill="none" stroke="#222" stroke-width="0.7"/>
<path d="M736.50 398.60 L703.39 417.25" fill="none" stroke="#111" stroke-width="1.25"/>
<path d="M703.39 417.25 L699.32 410.02 L707.75 414.80 Z" fill="#000" stroke="#000" stroke-width="0.6" stroke-linejoin="round"/>
<path d="M710.36 413.33 L700.90 407.73" fill="none" stroke="#222" stroke-width="0.7"/>
<path d="M736.50 434.40 L709.73 453.35" fill="none" stroke="#222" stroke-width="0.85"/>
<path d="M709.73 453.35 L699.74 448.76 M712.42 451.45 L702.43 446.85 M715.12 449.54 L705.12 444.94 M717.81 447.63 L707.82 443.04 M720.50 445.73 L715.51 443.43" fill="none" stroke="#222" stroke-width="0.85"/>
<path d="M736.50 472.60 L717.31 499.20" fill="none" stroke="#222" stroke-width="0.85"/>
<path d="M717.31 499.20 L706.37 498.09 M719.24 496.53 L708.30 495.41 M721.17 493.85 L710.23 492.74" fill="none" stroke="#222" stroke-width="0.85"/>
<path d="M736.50 502.90 L721.86 532.25" fill="none" stroke="#222" stroke-width="0.85"/>
<path d="M721.86 532.25 L710.89 532.93 M723.34 529.30 L712.36 529.97 M724.81 526.35 L713.83 527.02" fill="none" stroke="#222" stroke-width="0.85"/>
<path d="M736.50 528.20 L717.97 555.26" fill="none" stroke="#222" stroke-width="0.85"/>
<path d="M717.97 555.26 L707.00 554.42 M719.83 552.54 L708.87 551.70 M721.70 549.82 L716.21 549.40" fill="none" stroke="#222" stroke-width="0.85"/>
<path d="M736.50 549.70 L717.69 576.57" fill="none" stroke="#222" stroke-width="0.85"/>
<path d="M717.69 576.57 L706.73 575.61 M719.58 573.86 L708.62 572.91" fill="none" stroke="#222" stroke-width="0.85"/>
<path d="M736.50 567.40 L720.10 595.81" fill="none" stroke="#222" stroke-width="0.85"/>
<path d="M720.10 595.81 L709.10 595.81 M721.75 592.95 L716.25 592.95" fill="none" stroke="#222" stroke-width="0.85"/>
<path d="M736.50 585.05 L719.31 612.99" fill="none" stroke="#222" stroke-width="0.85"/>
<path d="M719.31 612.99 L708.32 612.68 M721.04 610.18 L715.54 610.02" fill="none" stroke="#222" stroke-width="0.85"/>
<path d="M736.50 598.30 L719.26 626.21" fill="none" stroke="#222" stroke-width="0.85"/>
<path d="M719.26 626.21 L708.27 625.88 M721.00 623.40 L715.50 623.24" fill="none" stroke="#222" stroke-width="0.85"/>
<path d="M736.50 611.60 L718.11 638.76" fill="none" stroke="#222" stroke-width="0.85"/>
<path d="M718.11 638.76 L707.14 637.97 M719.96 636.03 L714.48 635.63" fill="none" stroke="#222" stroke-width="0.85"/>
<path d="M736.50 622.70 L718.83 650.33" fill="none" stroke="#222" stroke-width="0.85"/>
<path d="M718.83 650.33 L707.84 649.83 M720.61 647.55 L715.11 647.30" fill="none" stroke="#222" stroke-width="0.85"/>
<path d="M736.50 635.80 L718.64 663.31" fill="none" stroke="#222" stroke-width="0.85"/>
<path d="M718.64 663.31 L707.65 662.73 M720.43 660.54 L714.94 660.25" fill="none" stroke="#222" stroke-width="0.85"/>
<path d="M736.50 643.50 L718.97 671.22" fill="none" stroke="#222" stroke-width="0.85"/>
<path d="M718.97 671.22 L707.98 670.78" fill="none" stroke="#222" stroke-width="0.85"/>
<path d="M736.50 653.00 L718.40 680.35" fill="none" stroke="#222" stroke-width="0.85"/>
<path d="M718.40 680.35 L707.42 679.68" fill="none" stroke="#222" stroke-width="0.85"/>
<path d="M736.50 662.30 L718.78 689.90" fill="none" stroke="#222" stroke-width="0.85"/>
<path d="M718.78 689.90 L707.79 689.38" fill="none" stroke="#222" stroke-width="0.85"/>
<path d="M736.50 671.30 L719.41 699.30" fill="none" stroke="#222" stroke-width="0.85"/>
<path d="M721.13 696.48 L715.63 696.35" fill="none" stroke="#222" stroke-width="0.85"/>
<path d="M736.50 678.10 L722.64 707.83" fill="none" stroke="#222" stroke-width="0.85"/>
<path d="M724.03 704.84 L718.55 705.32" fill="none" stroke="#222" stroke-width="0.85"/>
<path d="M736.50 694.20 L759.73 717.35" fill="none" stroke="#222" stroke-width="0.85"/>
<path d="M757.40 715.02 L755.98 720.34" fill="none" stroke="#222" stroke-width="0.85"/>
<path d="M736.50 699.50 L756.47 725.52" fill="none" stroke="#222" stroke-width="0.85"/>
<path d="M754.46 722.90 L752.35 727.99" fill="none" stroke="#222" stroke-width="0.85"/>
<path d="M736.50 682.70 L738.22 715.46" fill="none" stroke="#2a2a2a" stroke-width="0.75"/>
<path d="M736.50 689.50 L739.36 722.18" fill="none" stroke="#2a2a2a" stroke-width="0.75"/>
<path d="M736.50 696.50 L741.63 728.90" fill="none" stroke="#2a2a2a" stroke-width="0.75"/>
<path d="M736.50 703.00 L744.44 734.83" fill="none" stroke="#2a2a2a" stroke-width="0.75"/>
<path d="M743.64 731.62 L739.68 735.44" fill="none" stroke="#2a2a2a" stroke-width="0.75"/>
<path d="M736.50 708.50 L748.79 738.91" fill="none" stroke="#2a2a2a" stroke-width="0.75"/>
<path d="M747.55 735.85 L744.16 740.19" fill="none" stroke="#2a2a2a" stroke-width="0.75"/>
<path d="M736.50 713.50 L756.24 739.70" fill="none" stroke="#2a2a2a" stroke-width="0.75"/>
<path d="M754.25 737.06 L752.10 742.12" fill="none" stroke="#2a2a2a" stroke-width="0.75"/>
<path d="M736.50 717.20 L763.04 736.48" fill="none" stroke="#2a2a2a" stroke-width="0.75"/>
<path d="M763.04 736.48 L761.89 747.42" fill="none" stroke="#2a2a2a" stroke-width="0.75"/>
<path d="M736.50 722.00 L766.46 735.34" fill="none" stroke="#2a2a2a" stroke-width="0.75"/>
<path d="M766.46 735.34 L767.61 746.28" fill="none" stroke="#2a2a2a" stroke-width="0.75"/>
<path d="M736.50 728.40 L768.03 737.44" fill="none" stroke="#2a2a2a" stroke-width="0.75"/>
<path d="M768.03 737.44 L770.69 748.11 M764.86 736.53 L766.19 741.87" fill="none" stroke="#2a2a2a" stroke-width="0.75"/>
<path d="M736.50 734.00 L768.33 741.94" fill="none" stroke="#2a2a2a" stroke-width="0.75"/>
<path d="M768.33 741.94 L771.36 752.51 M765.12 741.14 L766.64 746.42" fill="none" stroke="#2a2a2a" stroke-width="0.75"/>
<path d="M736.50 739.50 L767.87 749.09" fill="none" stroke="#2a2a2a" stroke-width="0.75"/>
<path d="M767.87 749.09 L770.34 759.81 M764.71 748.12 L765.95 753.48" fill="none" stroke="#2a2a2a" stroke-width="0.75"/>
<path d="M736.50 741.30 L762.70 762.60 M736.50 742.00 L762.21 763.10 M736.50 742.70 L761.72 763.60 M736.50 743.40 L761.23 764.10 M736.50 744.10 L760.73 764.60 M736.50 744.80 L760.24 765.10 M736.50 745.50 L759.75 765.60 M736.50 746.20 L759.26 766.10 M736.50 746.90 L758.77 766.60 M736.50 747.60 L758.28 767.10 M736.50 748.30 L757.78 767.60 M736.50 749.00 L757.29 768.10 M736.50 749.70 L756.80 768.60 M762.7 762.6 L761.2 773.2 M761.3 764.0 L759.0 774.5 M757.6 767.8 L754.8 776.5" fill="none" stroke="#2e2e2e" stroke-width="0.6" stroke-linejoin="round"/>
<path d="M760.4 763.4 L755.6 780.8" fill="none" stroke="#111" stroke-width="1.3"/>
</svg>
</body></html>
